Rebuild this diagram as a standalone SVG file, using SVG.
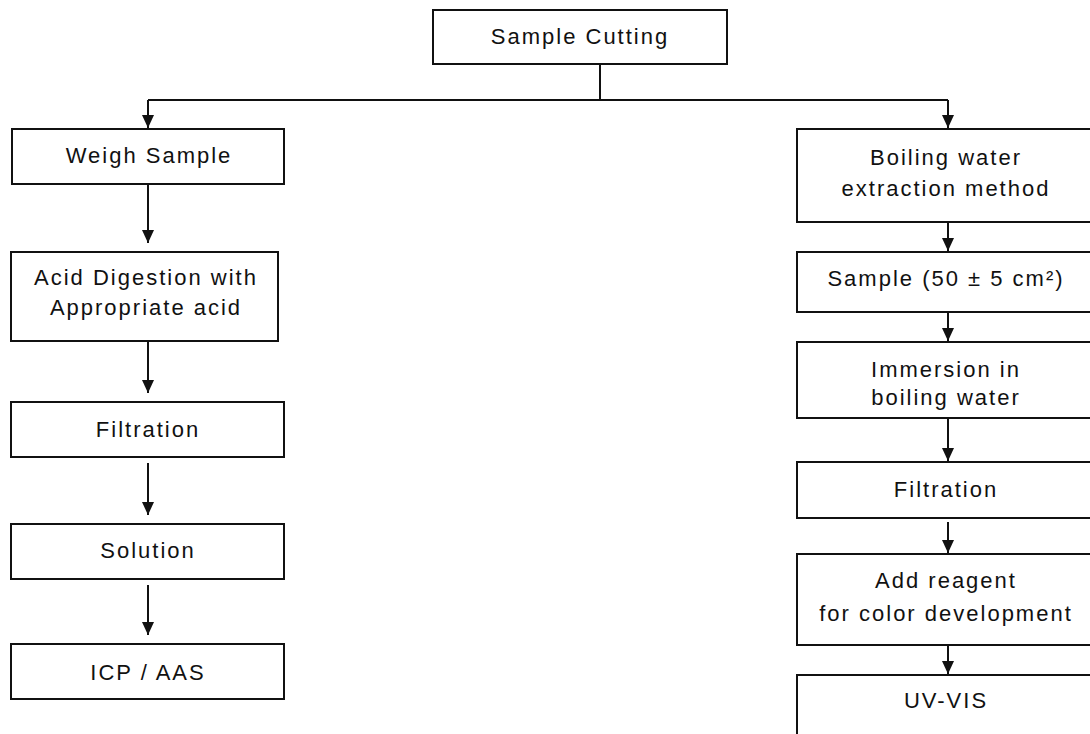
<svg xmlns="http://www.w3.org/2000/svg" width="1090" height="734" viewBox="0 0 1090 734">
<defs>
<style>
.box{fill:#fff;stroke:#111;stroke-width:2}
.t{font-family:"Liberation Sans",Arial,sans-serif;font-size:22px;letter-spacing:2px;fill:#111;text-anchor:middle}
.c{fill:none;stroke:#111;stroke-width:2}
</style>
<marker id="ah" markerUnits="userSpaceOnUse" markerWidth="14" markerHeight="14" viewBox="0 0 14 14" refX="13" refY="7" orient="auto">
<path d="M0,1 L13,7 L0,13 Z" fill="#111"/>
</marker>
</defs>
<rect width="1090" height="734" fill="#fff"/>
<g id="connectors">
<path class="c" d="M600,64 V100 M148,100 H948"/>
<line class="c" x1="148" y1="100" x2="148" y2="128" marker-end="url(#ah)"/>
<line class="c" x1="948" y1="100" x2="948" y2="128" marker-end="url(#ah)"/>
<line class="c" x1="148" y1="185" x2="148" y2="243" marker-end="url(#ah)"/>
<line class="c" x1="148" y1="342" x2="148" y2="393" marker-end="url(#ah)"/>
<line class="c" x1="148" y1="463" x2="148" y2="515" marker-end="url(#ah)"/>
<line class="c" x1="148" y1="585" x2="148" y2="635" marker-end="url(#ah)"/>
<line class="c" x1="948" y1="222" x2="948" y2="251" marker-end="url(#ah)"/>
<line class="c" x1="948" y1="312" x2="948" y2="341" marker-end="url(#ah)"/>
<line class="c" x1="948" y1="418" x2="948" y2="461" marker-end="url(#ah)"/>
<line class="c" x1="948" y1="522" x2="948" y2="553" marker-end="url(#ah)"/>
<line class="c" x1="948" y1="645" x2="948" y2="674" marker-end="url(#ah)"/>
</g>
<g id="sample-cutting"><rect class="box" x="433" y="10" width="294" height="54"/><text class="t" x="580" y="44">Sample Cutting</text></g>
<g id="weigh-sample"><rect class="box" x="12" y="129" width="272" height="55"/><text class="t" x="149" y="163">Weigh Sample</text></g>
<g id="acid-digestion"><rect class="box" x="11" y="252" width="267" height="89"/><text class="t" x="146" y="285">Acid Digestion with</text><text class="t" x="146" y="315">Appropriate acid</text></g>
<g id="filtration-left"><rect class="box" x="11" y="402" width="273" height="55"/><text class="t" x="148" y="437">Filtration</text></g>
<g id="solution"><rect class="box" x="11" y="524" width="273" height="55"/><text class="t" x="148" y="558">Solution</text></g>
<g id="icp-aas"><rect class="box" x="11" y="644" width="273" height="55"/><text class="t" x="148" y="680">ICP / AAS</text></g>
<g id="boiling-water"><rect class="box" x="797" y="129" width="300" height="93"/><text class="t" x="946" y="165">Boiling water</text><text class="t" x="946" y="196">extraction method</text></g>
<g id="sample-50"><rect class="box" x="797" y="252" width="300" height="60"/><text class="t" x="946" y="286">Sample (50 ± 5 cm²)</text></g>
<g id="immersion"><rect class="box" x="797" y="342" width="300" height="76"/><text class="t" x="946" y="377">Immersion in</text><text class="t" x="946" y="405">boiling water</text></g>
<g id="filtration-right"><rect class="box" x="797" y="462" width="300" height="56"/><text class="t" x="946" y="497">Filtration</text></g>
<g id="add-reagent"><rect class="box" x="797" y="554" width="300" height="91"/><text class="t" x="946" y="588">Add reagent</text><text class="t" x="946" y="621">for color development</text></g>
<g id="uv-vis"><rect class="box" x="797" y="675" width="300" height="80"/><text class="t" x="946" y="708">UV-VIS</text></g>
</svg>
